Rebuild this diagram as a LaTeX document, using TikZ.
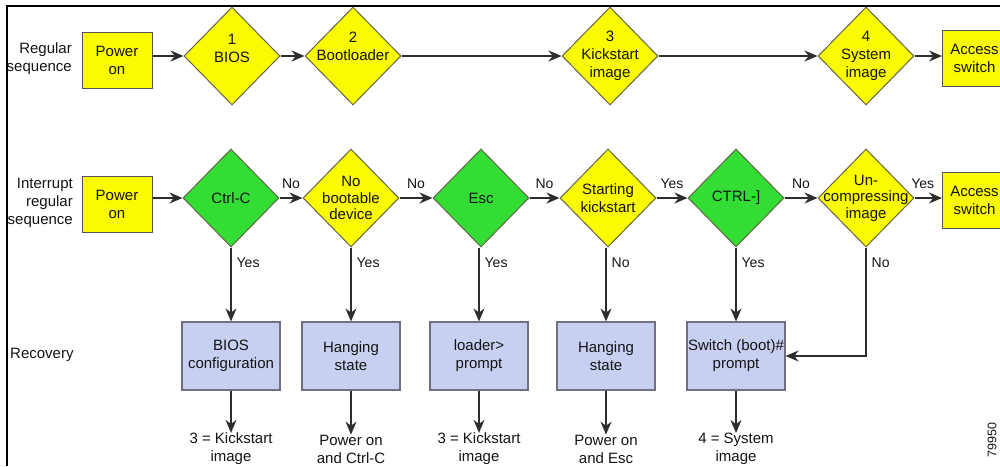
\documentclass[tikz,border=0pt]{standalone}
\usepackage{fontspec}
\setmainfont{Liberation Sans}
\usetikzlibrary{arrows.meta,shapes.geometric}
\definecolor{yel}{RGB}{250,250,0}
\definecolor{grn}{RGB}{51,221,51}
\definecolor{lav}{RGB}{200,208,242}
\definecolor{edgec}{RGB}{100,100,70}
\definecolor{boxedge}{RGB}{85,85,85}
\definecolor{lavedge}{RGB}{112,112,128}
\definecolor{linec}{RGB}{45,45,45}
\definecolor{txtc}{RGB}{20,20,20}
\begin{document}
\begin{tikzpicture}[x=1pt,y=-1pt,
  txt/.style={font=\fontsize{15}{18}\selectfont, align=center, inner sep=0pt, text=txtc},
  ybox/.style={draw=boxedge, fill=yel, line width=1pt, minimum width=70pt, minimum height=56pt, inner sep=0pt, txt},
  dia/.style={diamond, draw=edgec, line width=1pt, minimum width=96pt, minimum height=98pt, inner sep=0pt},
  ydia/.style={dia, fill=yel},
  gdia/.style={dia, fill=grn},
  rbox/.style={draw=lavedge, fill=lav, line width=1.2pt, minimum width=98pt, minimum height=68pt, inner sep=0pt, txt},
  arr/.style={draw=linec, line width=1.3pt, -{Stealth[length=13pt,width=11pt]}},
  lab/.style={font=\fontsize{14}{16}\selectfont, text=txtc, inner sep=1pt},
]
\useasboundingbox (0,0) rectangle (1000,466);
\clip (0,0) rectangle (1000,466);

% frame
\draw[line width=2pt, black] (7,466) -- (7,6) -- (1000,6);

% row labels
\node[txt, align=right, anchor=east] (l1) at (72,59) {Regular\\sequence};
\node[txt, align=right, anchor=east] (l2) at (73,203) {Interrupt\\regular\\sequence};
\node[txt, anchor=west] (l3) at (10,355) {Recovery};

% row 1
\node[ybox] (pw1) at (117,60) {Power\\on};
\node[ydia, label={[txt,yshift=8pt]center:{1\\BIOS}}] (bios) at (232,56) {};
\node[ydia, label={[txt,yshift=10pt]center:{2\\Bootloader}}] (boot) at (353,56) {};
\node[ydia, label={[txt]center:{3\\Kickstart\\image}}] (kick) at (610,56) {};
\node[ydia, label={[txt]center:{4\\System\\image}}] (sys) at (866,56) {};
\node[ybox, minimum width=64pt, anchor=west] (acc1) at (942,58) {Access\\switch};

\draw[arr] (pw1.east |- bios.west) -- (bios.west);
\draw[arr] (bios.east) -- (boot.west);
\draw[arr] (boot.east) -- (kick.west);
\draw[arr] (kick.east) -- (sys.west);
\draw[arr] (sys.east) -- (acc1.west |- sys.east);

% row 2
\node[ybox] (pw2) at (117,204) {Power\\on};
\node[gdia, label={[txt]center:{Ctrl-C}}] (ctrlc) at (231,198) {};
\node[ydia, label={[txt,font=\fontsize{15}{16.5}\selectfont]center:{No\\bootable\\device}}] (nobd) at (351,198) {};
\node[gdia, label={[txt]center:{Esc}}] (esc) at (481,198) {};
\node[ydia, label={[txt]center:{Starting\\kickstart}}] (stk) at (608,198) {};
\node[gdia, label={[txt]center:{CTRL-]}}] (ctrlb) at (736,198) {};
\node[ydia, label={[txt,font=\fontsize{15}{16.5}\selectfont]center:{Un-\\compressing\\image}}] (unc) at (866,198) {};
\node[ybox, minimum width=64pt, anchor=west] (acc2) at (942,200) {Access\\switch};

\draw[arr] (pw2.east |- ctrlc.west) -- (ctrlc.west);
\draw[arr] (ctrlc.east) -- node[lab, above=8pt]{No} (nobd.west);
\draw[arr] (nobd.east) -- node[lab, above=8pt]{No} (esc.west);
\draw[arr] (esc.east) -- node[lab, above=8pt]{No} (stk.west);
\draw[arr] (stk.east) -- node[lab, above=8pt]{Yes} (ctrlb.west);
\draw[arr] (ctrlb.east) -- node[lab, above=8pt]{No} (unc.west);
\draw[arr] (unc.east) -- node[lab, above=8pt, pos=0.3]{Yes} (acc2.west |- unc.east);

% row 3
\node[rbox] (r1) at (231,356) {BIOS\\configuration};
\node[rbox] (r2) at (351,356) {Hanging\\state};
\node[rbox] (r3) at (479,356) {loader>\\prompt};
\node[rbox] (r4) at (606,356) {Hanging\\state};
\node[rbox] (r5) at (736,356) {Switch (boot)\#\\prompt};

\draw[arr] (ctrlc.south) -- node[lab, pos=0.2, right=4pt]{Yes} (r1.north);
\draw[arr] (nobd.south) -- node[lab, pos=0.2, right=4pt]{Yes} (r2.north);
\draw[arr] (esc.south -| r3.north) -- node[lab, pos=0.2, right=4pt]{Yes} (r3.north);
\draw[arr] (stk.south -| r4.north) -- node[lab, pos=0.2, right=4pt]{No} (r4.north);
\draw[arr] (ctrlb.south) -- node[lab, pos=0.2, right=4pt]{Yes} (r5.north);
\draw[arr] (unc.south) |- node[lab, pos=0.07, right=4pt]{No} (r5.east);

% outcomes
\node[txt] (e1) at (231,449) {3 = Kickstart\\image};
\node[txt] (e2) at (351,449) {Power on\\and Ctrl-C};
\node[txt] (e3) at (479,449) {3 = Kickstart\\image};
\node[txt] (e4) at (606,449) {Power on\\and Esc};
\node[txt] (e5) at (736,449) {4 = System\\image};

\draw[arr] (r1.south) -- (e1.north);
\draw[arr] (r2.south) -- (e2.north);
\draw[arr] (r3.south) -- (e3.north);
\draw[arr] (r4.south) -- (e4.north);
\draw[arr] (r5.south) -- (e5.north);

\node[font=\fontsize{12.5}{13}\selectfont, rotate=90, text=txtc, inner sep=0pt] (fig) at (992,440) {79950};
\end{tikzpicture}
\end{document}
